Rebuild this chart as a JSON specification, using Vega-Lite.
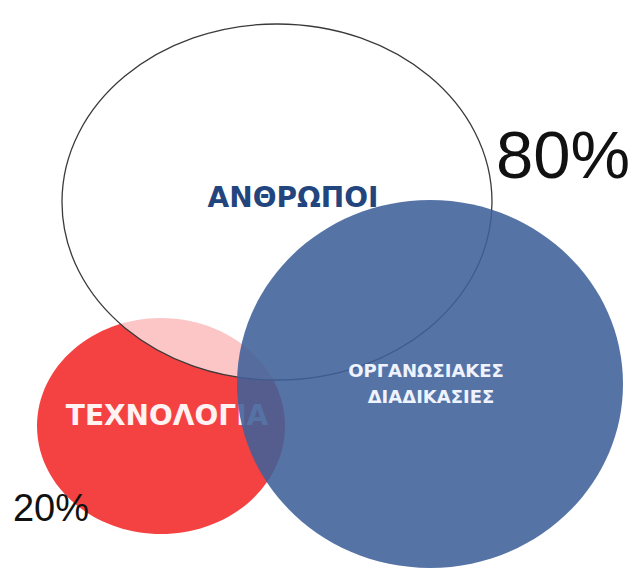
{
  "$schema": "https://vega.github.io/schema/vega-lite/v6.json",
  "width": 638,
  "height": 570,
  "autosize": {"type": "fit", "contains": "padding"},
  "padding": 0,
  "background": "white",
  "config": {"view": {"stroke": null}},
  "datasets": {
    "shapes": [
      {"name": "ΤΕΧΝΟΛΟΓΙΑ", "cx": 161, "cy": 426},
      {"name": "ΑΝΘΡΩΠΟΙ", "cx": 277, "cy": 202},
      {"name": "ΟΡΓΑΝΩΣΙΑΚΕΣ ΔΙΑΔΙΚΑΣΙΕΣ", "cx": 430, "cy": 384}
    ],
    "labels": [
      {"group": "tech", "text": "ΤΕΧΝΟΛΟΓΙΑ", "lx": 167, "ly": 417},
      {"group": "people", "text": "ΑΝΘΡΩΠΟΙ", "lx": 293, "ly": 199},
      {"group": "org", "text": "ΟΡΓΑΝΩΣΙΑΚΕΣ", "lx": 426, "ly": 372},
      {"group": "org", "text": "ΔΙΑΔΙΚΑΣΙΕΣ", "lx": 431, "ly": 398},
      {"group": "pct80", "text": "80%", "lx": 563, "ly": 158},
      {"group": "pct20", "text": "20%", "lx": 51, "ly": 510}
    ]
  },
  "encoding": {
    "x": {"field": "cx", "type": "quantitative", "scale": {"domain": [0, 638]}, "axis": null},
    "y": {"field": "cy", "type": "quantitative", "scale": {"domain": [0, 570], "reverse": true}, "axis": null}
  },
  "layer": [
    {
      "data": {"name": "shapes"},
      "transform": [{"filter": "datum.name === 'ΤΕΧΝΟΛΟΓΙΑ'"}],
      "mark": {"type": "point", "filled": true, "fill": "#f44242", "fillOpacity": 1, "strokeWidth": 0, "opacity": 1, "size": 61504, "shape": "M-1,0A1,0.871,0,1,0,1,0A1,0.871,0,1,0,-1,0Z"}
    },
    {
      "data": {"name": "labels"},
      "transform": [{"filter": "datum.group === 'tech'"}],
      "mark": {"type": "text", "font": "DejaVu Sans", "fontWeight": "bold", "fontSize": 28, "fill": "#fff2f2", "align": "center", "baseline": "middle"},
      "encoding": {
        "x": {"field": "lx", "type": "quantitative"},
        "y": {"field": "ly", "type": "quantitative"},
        "text": {"field": "text"}
      }
    },
    {
      "data": {"name": "shapes"},
      "transform": [{"filter": "datum.name === 'ΑΝΘΡΩΠΟΙ'"}],
      "mark": {"type": "point", "filled": true, "fill": "#ffffff", "fillOpacity": 0.7, "stroke": "#3a3a3a", "strokeWidth": 1.3, "strokeOpacity": 1, "opacity": 1, "size": 184900, "shape": "M-1,0A1,0.828,0,1,0,1,0A1,0.828,0,1,0,-1,0Z"}
    },
    {
      "data": {"name": "labels"},
      "transform": [{"filter": "datum.group === 'people'"}],
      "mark": {"type": "text", "font": "DejaVu Sans", "fontWeight": "bold", "fontSize": 28, "fill": "#23457e", "align": "center", "baseline": "middle"},
      "encoding": {
        "x": {"field": "lx", "type": "quantitative"},
        "y": {"field": "ly", "type": "quantitative"},
        "text": {"field": "text"}
      }
    },
    {
      "data": {"name": "shapes"},
      "transform": [{"filter": "datum.name === 'ΟΡΓΑΝΩΣΙΑΚΕΣ ΔΙΑΔΙΚΑΣΙΕΣ'"}],
      "mark": {"type": "point", "filled": true, "fill": "#3f6098", "fillOpacity": 0.88, "strokeWidth": 0, "opacity": 1, "size": 148996, "shape": "M-1,0A1,0.953,0,1,0,1,0A1,0.953,0,1,0,-1,0Z"}
    },
    {
      "data": {"name": "labels"},
      "transform": [{"filter": "datum.group === 'org'"}],
      "mark": {"type": "text", "font": "DejaVu Sans", "fontWeight": "bold", "fontSize": 18, "fill": "#eef3ff", "align": "center", "baseline": "middle"},
      "encoding": {
        "x": {"field": "lx", "type": "quantitative"},
        "y": {"field": "ly", "type": "quantitative"},
        "text": {"field": "text"}
      }
    },
    {
      "data": {"name": "labels"},
      "transform": [{"filter": "datum.group === 'pct80'"}],
      "mark": {"type": "text", "font": "Liberation Sans", "fontSize": 67, "fill": "#111111", "align": "center", "baseline": "middle"},
      "encoding": {
        "x": {"field": "lx", "type": "quantitative"},
        "y": {"field": "ly", "type": "quantitative"},
        "text": {"field": "text"}
      }
    },
    {
      "data": {"name": "labels"},
      "transform": [{"filter": "datum.group === 'pct20'"}],
      "mark": {"type": "text", "font": "Liberation Sans", "fontSize": 38, "fill": "#111111", "align": "center", "baseline": "middle"},
      "encoding": {
        "x": {"field": "lx", "type": "quantitative"},
        "y": {"field": "ly", "type": "quantitative"},
        "text": {"field": "text"}
      }
    }
  ]
}
